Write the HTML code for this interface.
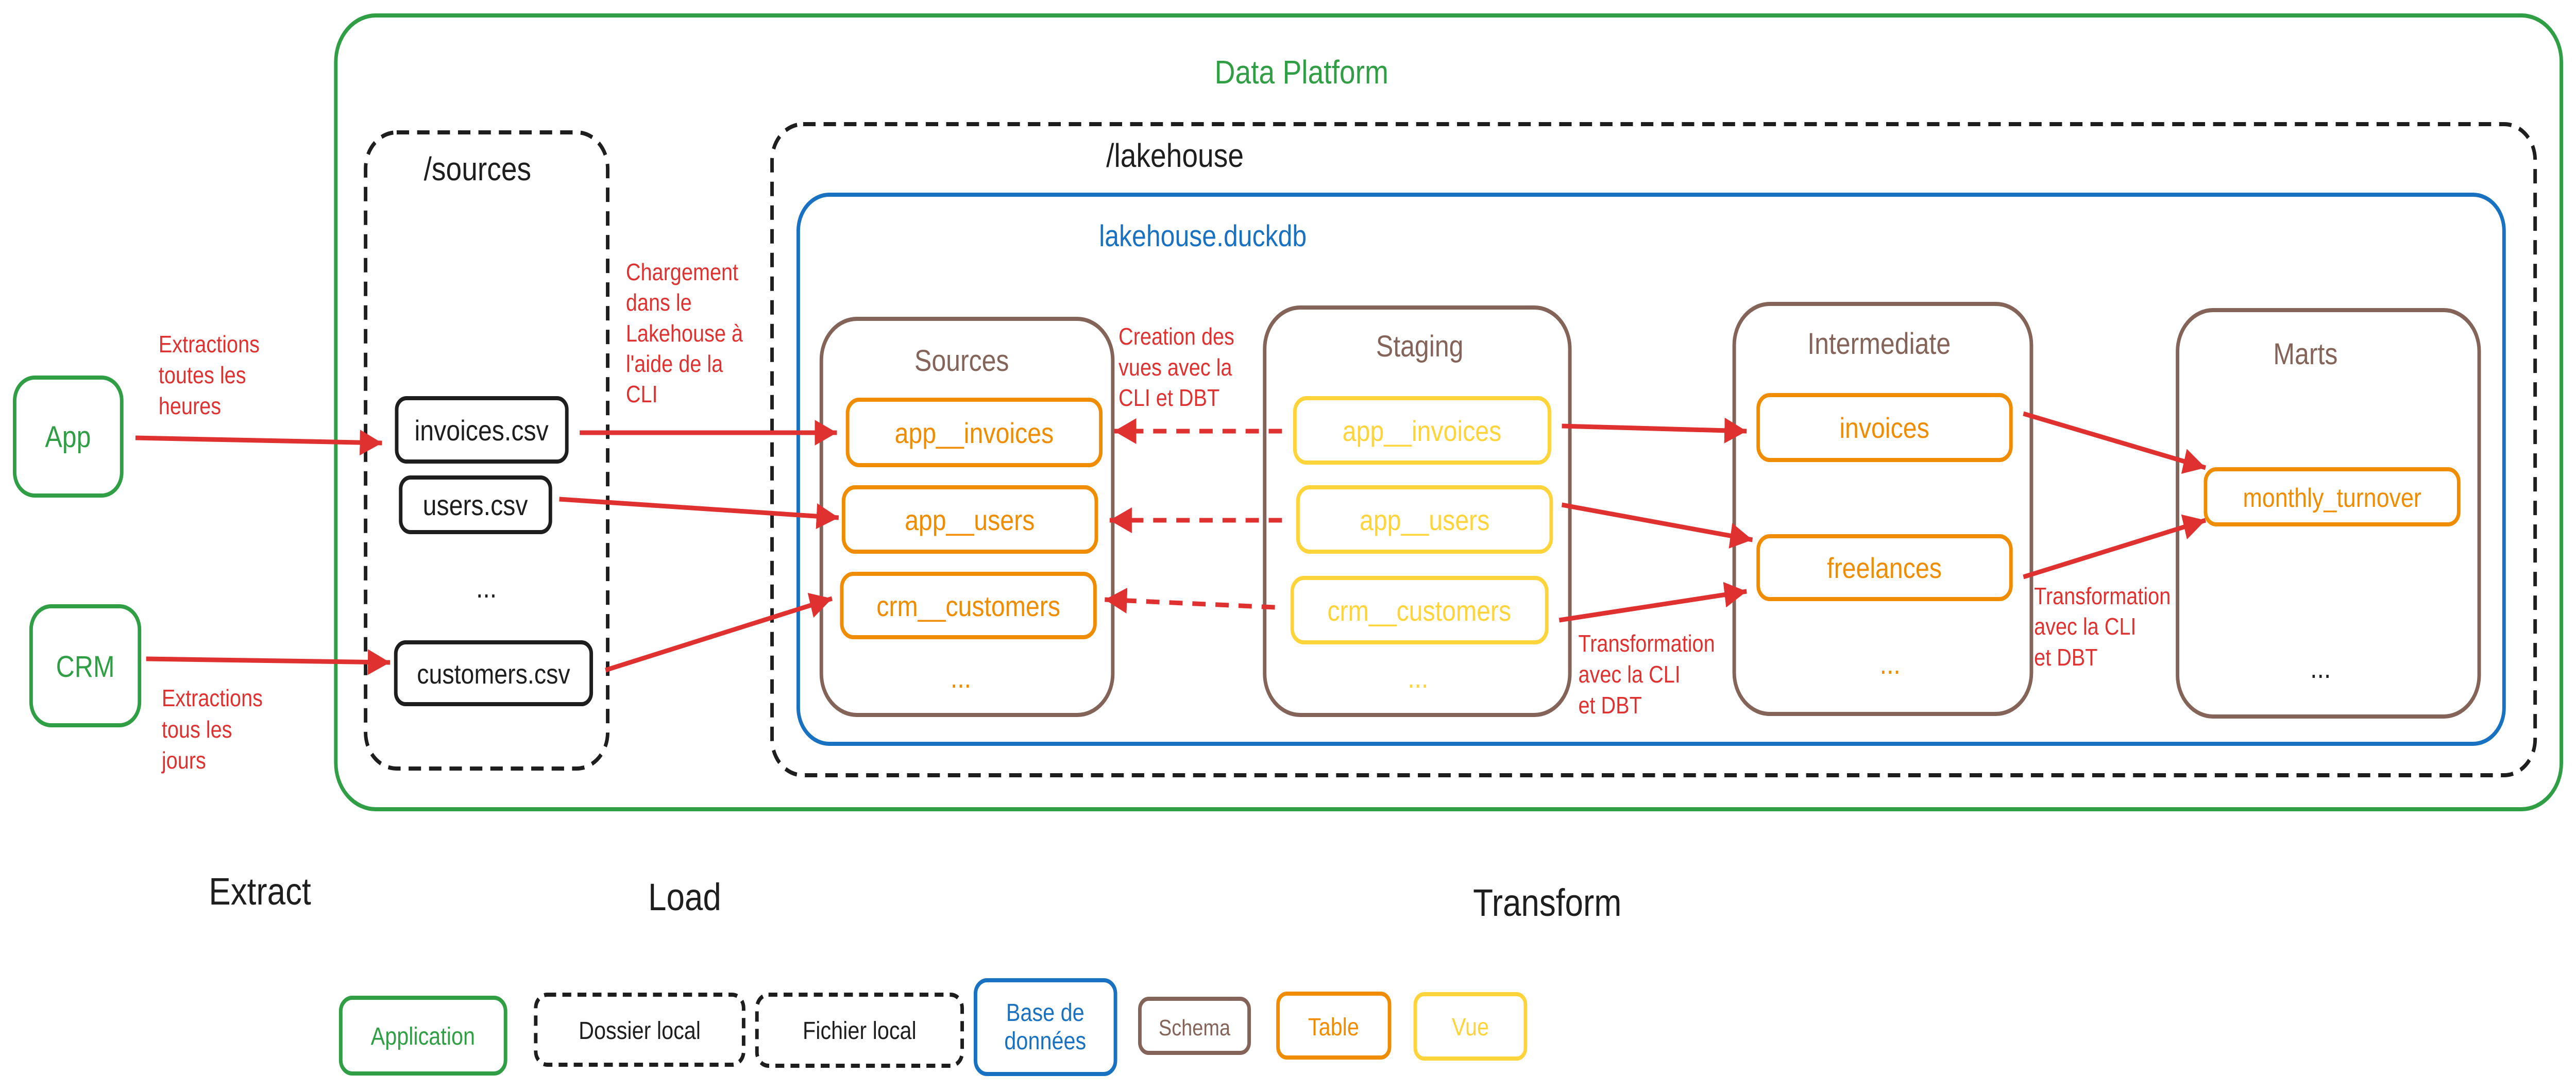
<!DOCTYPE html>
<html><head><meta charset="utf-8"><style>
html,body{margin:0;padding:0;background:#fff;width:100%;height:100%;overflow:hidden;}
svg{display:block;position:absolute;left:0;top:0;width:100vw;height:100vh;}
text{font-family:"Liberation Sans",sans-serif;}
</style></head><body>
<svg viewBox="0 0 5799 2118" preserveAspectRatio="none" xmlns="http://www.w3.org/2000/svg">
<defs>
<marker id="ah" markerUnits="userSpaceOnUse" markerWidth="60" markerHeight="60" refX="50" refY="25" orient="auto">
<path d="M0,0 L50,25 L0,50 Z" fill="#e03131"/>
</marker>
</defs>
<g fill="none" stroke-width="8">
<rect x="756" y="30" width="5010" height="1541" rx="90" stroke="#2f9e44"/>
<rect x="823" y="257" width="545" height="1235" rx="70" stroke="#1e1e1e" stroke-dasharray="28,18"/>
<rect x="1738" y="241" width="3969" height="1264" rx="70" stroke="#1e1e1e" stroke-dasharray="28,18"/>
<rect x="1797" y="378" width="3840" height="1066" rx="70" stroke="#1971c2"/>
<rect x="33" y="733" width="241" height="229" rx="45" stroke="#2f9e44"/>
<rect x="70" y="1177" width="244" height="231" rx="45" stroke="#2f9e44"/>
<rect x="893" y="773" width="383" height="123" rx="22" stroke="#1e1e1e"/>
<rect x="902" y="927" width="337" height="106" rx="22" stroke="#1e1e1e"/>
<rect x="891" y="1247" width="440" height="120" rx="22" stroke="#1e1e1e"/>
<rect x="1849" y="619" width="656" height="769" rx="80" stroke="#846358"/>
<rect x="2847" y="597" width="687" height="791" rx="80" stroke="#846358"/>
<rect x="3904" y="590" width="669" height="796" rx="80" stroke="#846358"/>
<rect x="4902" y="602" width="679" height="789" rx="80" stroke="#846358"/>
<rect x="1908" y="776" width="570" height="127" rx="26" stroke="#f08c00"/>
<rect x="1899" y="946" width="569" height="125" rx="26" stroke="#f08c00"/>
<rect x="1895" y="1114" width="570" height="123" rx="26" stroke="#f08c00"/>
<rect x="2915" y="773" width="573" height="125" rx="26" stroke="#ffd43b"/>
<rect x="2922" y="946" width="570" height="125" rx="26" stroke="#ffd43b"/>
<rect x="2909" y="1122" width="573" height="125" rx="26" stroke="#ffd43b"/>
<rect x="3958" y="767" width="569" height="126" rx="26" stroke="#f08c00"/>
<rect x="3958" y="1041" width="569" height="122" rx="26" stroke="#f08c00"/>
<rect x="4965" y="911" width="570" height="107" rx="24" stroke="#f08c00"/>
<rect x="767" y="1937" width="371" height="147" rx="26" stroke="#2f9e44"/>
<rect x="1206" y="1931" width="468" height="136" rx="26" stroke="#1e1e1e" stroke-dasharray="20,14"/>
<rect x="1704" y="1931" width="462" height="138" rx="26" stroke="#1e1e1e" stroke-dasharray="20,14"/>
<rect x="2196" y="1903" width="315" height="182" rx="26" stroke="#1971c2"/>
<rect x="2566" y="1939" width="246" height="105" rx="20" stroke="#846358"/>
<rect x="2877" y="1929" width="251" height="124" rx="20" stroke="#f08c00"/>
<rect x="3186" y="1930" width="248" height="125" rx="20" stroke="#ffd43b"/>
</g>
<g stroke="#e03131" stroke-width="9" fill="none" marker-end="url(#ah)">
<line x1="305" y1="850" x2="860" y2="860"/>
<line x1="329" y1="1279" x2="878" y2="1286"/>
<line x1="1305" y1="840" x2="1884" y2="840"/>
<line x1="1259" y1="969" x2="1888" y2="1005"/>
<line x1="1363" y1="1301" x2="1873" y2="1162"/>
<line x1="2886" y1="837" x2="2508" y2="837" stroke-dasharray="30,22"/>
<line x1="2886" y1="1010" x2="2498" y2="1010" stroke-dasharray="30,22"/>
<line x1="2870" y1="1179" x2="2487" y2="1164" stroke-dasharray="30,22"/>
<line x1="3516" y1="827" x2="3932" y2="837"/>
<line x1="3516" y1="980" x2="3945" y2="1048"/>
<line x1="3510" y1="1204" x2="3932" y2="1148"/>
<line x1="4555" y1="803" x2="4965" y2="908"/>
<line x1="4555" y1="1120" x2="4965" y2="1010"/>
</g>
<g font-size="56" text-anchor="middle">
<text x="2930" y="162" fill="#2f9e44" font-size="64">Data Platform</text>
<text x="1075" y="350" fill="#1e1e1e" font-size="64">/sources</text>
<text x="2645" y="324" fill="#1e1e1e" font-size="64">/lakehouse</text>
<text x="153" y="868" fill="#2f9e44" font-size="58">App</text>
<text x="192" y="1314" fill="#2f9e44" font-size="58">CRM</text>
<text x="1084" y="855" fill="#1e1e1e" font-size="56">invoices.csv</text>
<text x="1070" y="1000" fill="#1e1e1e" font-size="56">users.csv</text>
<text x="1095" y="1160" fill="#1e1e1e" font-size="56">...</text>
<text x="1111" y="1327" fill="#1e1e1e" font-size="54">customers.csv</text>
<text x="2165" y="720" fill="#846358" font-size="58">Sources</text>
<text x="3196" y="692" fill="#846358" font-size="58">Staging</text>
<text x="4230" y="687" fill="#846358" font-size="58">Intermediate</text>
<text x="5190" y="707" fill="#846358" font-size="58">Marts</text>
<text x="2193" y="860" fill="#f08c00" font-size="56">app__invoices</text>
<text x="2183" y="1029" fill="#f08c00" font-size="56">app__users</text>
<text x="2180" y="1196" fill="#f08c00" font-size="56">crm__customers</text>
<text x="2163" y="1335" fill="#f08c00" font-size="56">...</text>
<text x="3201" y="856" fill="#ffd43b" font-size="56">app__invoices</text>
<text x="3207" y="1029" fill="#ffd43b" font-size="56">app__users</text>
<text x="3195" y="1205" fill="#ffd43b" font-size="56">crm__customers</text>
<text x="3192" y="1335" fill="#ffd43b" font-size="56">...</text>
<text x="4242" y="850" fill="#f08c00" font-size="56">invoices</text>
<text x="4242" y="1122" fill="#f08c00" font-size="56">freelances</text>
<text x="4255" y="1308" fill="#f08c00" font-size="56">...</text>
<text x="5250" y="984" fill="#f08c00" font-size="52">monthly_turnover</text>
<text x="5224" y="1316" fill="#1e1e1e" font-size="56">...</text>
</g>
<text x="2474" y="478" fill="#1971c2" font-size="58">lakehouse.duckdb</text>
<g fill="#e03131" font-size="46">
<text x="357" y="684">Extractions</text>
<text x="357" y="744">toutes les</text>
<text x="357" y="804">heures</text>
<text x="364" y="1371">Extractions</text>
<text x="364" y="1432">tous les</text>
<text x="364" y="1492">jours</text>
<text x="1409" y="544">Chargement</text>
<text x="1409" y="603">dans le</text>
<text x="1409" y="663">Lakehouse à</text>
<text x="1409" y="722">l'aide de la</text>
<text x="1409" y="781">CLI</text>
<text x="2518" y="669">Creation des</text>
<text x="2518" y="729">vues avec la</text>
<text x="2518" y="788">CLI et DBT</text>
<text x="3553" y="1265">Transformation</text>
<text x="3553" y="1325">avec la CLI</text>
<text x="3553" y="1385">et DBT</text>
<text x="4579" y="1173">Transformation</text>
<text x="4579" y="1232">avec la CLI</text>
<text x="4579" y="1292">et DBT</text>
</g>
<g fill="#1e1e1e" font-size="74">
<text x="470" y="1756">Extract</text>
<text x="1459" y="1767">Load</text>
<text x="3316" y="1778">Transform</text>
</g>
<g font-size="48" text-anchor="middle">
<text x="952" y="2028" fill="#2f9e44">Application</text>
<text x="1440" y="2017" fill="#1e1e1e">Dossier local</text>
<text x="1935" y="2017" fill="#1e1e1e">Fichier local</text>
<text x="2353" y="1982" fill="#1971c2">Base de</text>
<text x="2353" y="2037" fill="#1971c2">données</text>
<text x="2689" y="2010" fill="#846358" font-size="44">Schema</text>
<text x="3002" y="2010" fill="#f08c00">Table</text>
<text x="3310" y="2010" fill="#ffd43b">Vue</text>
</g>
</svg>
</body></html>
